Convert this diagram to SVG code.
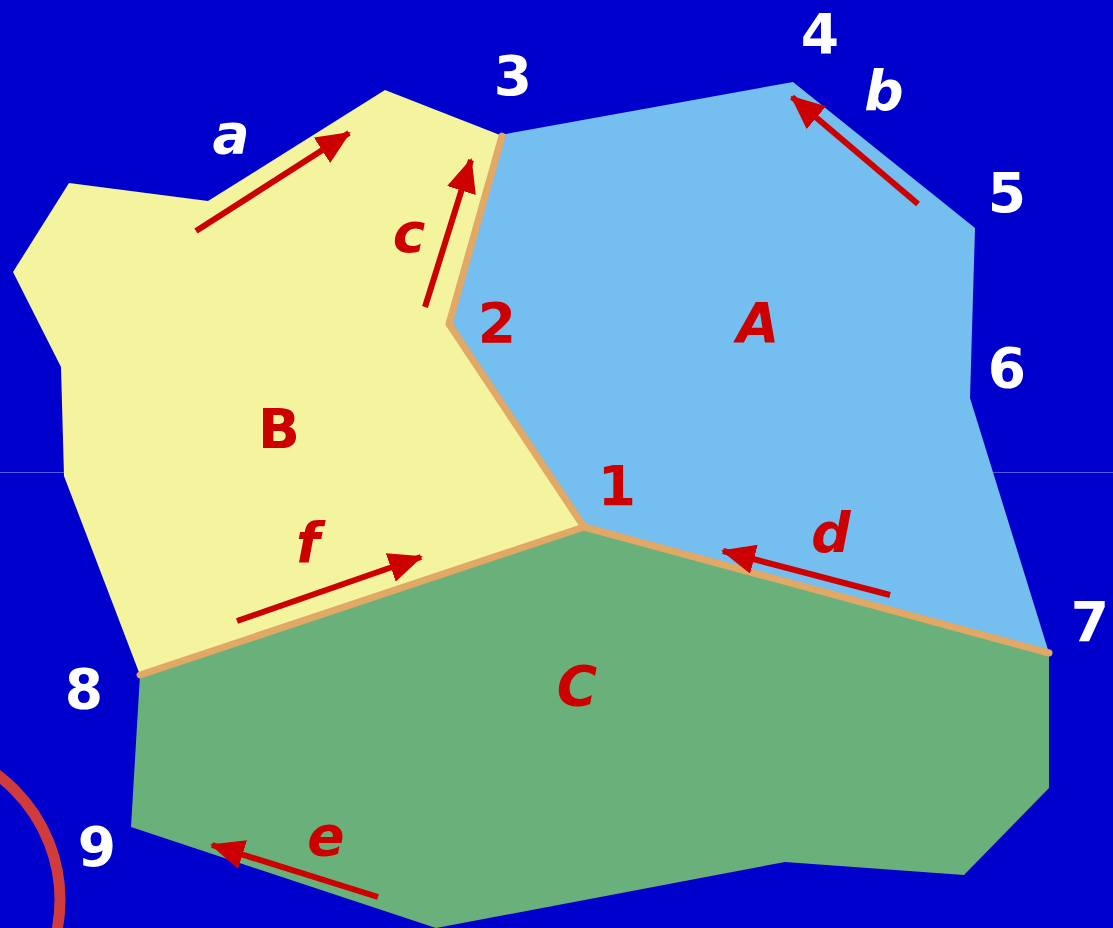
<svg xmlns="http://www.w3.org/2000/svg" width="1113" height="928" viewBox="0 0 1113 928">
  <style>
    .num { font-family: "DejaVu Sans", "Liberation Sans", sans-serif; font-weight: bold; font-size: 55px; fill: #ffffff; text-anchor: middle; }
    .lbl { font-family: "DejaVu Sans", "Liberation Sans", sans-serif; font-weight: bold; font-size: 55px; fill: #cc0000; text-anchor: middle; }
    .it { font-style: italic; }
    .arrow { stroke: #cc0000; stroke-width: 6; fill: none; marker-end: url(#head); }
    .border { stroke: #e2a865; stroke-width: 7; fill: none; stroke-linecap: round; stroke-linejoin: round; }
  </style>
  <defs>
    <marker id="head" markerUnits="userSpaceOnUse" viewBox="0 0 34 30" refX="32" refY="15" markerWidth="34" markerHeight="30" orient="auto">
      <path d="M0,0 L34,15 L0,30 z" fill="#cc0000"/>
    </marker>
  </defs>
  <rect x="0" y="0" width="1113" height="928" fill="#0000cc"/>
  <line x1="0" y1="472.5" x2="1113" y2="472.5" stroke="#5656e4" stroke-width="1"/>

  <g id="region-B">
    <polygon points="69,183 208,201 385,90 500,135 447,325 584,527 140,675 64,476 61,367 13,272" fill="#f5f49e"/>
    <text class="lbl" x="279" y="448">B</text>
  </g>
  <g id="region-A">
    <polygon points="500,135 793,82 975,228 970,398 1049,653 584,527 447,325" fill="#74bef0"/>
    <text class="lbl it" x="758" y="342">A</text>
  </g>
  <g id="region-C">
    <polygon points="140,675 584,527 1049,653 1049,788 964,875 785,862 436,928 131,827" fill="#6ab07a"/>
    <text class="lbl it" x="577" y="705">C</text>
  </g>

  <g id="borders">
    <polyline class="border" points="502,136 449,324 584,527 1049,653"/>
    <polyline class="border" points="584,527 140,675"/>
  </g>

  <g id="connectors">
    <line class="arrow" x1="196" y1="231" x2="349" y2="133"/>
    <line class="arrow" x1="425" y1="307" x2="471" y2="160"/>
    <line class="arrow" x1="918" y1="204" x2="792" y2="97"/>
    <line class="arrow" x1="890" y1="595" x2="723" y2="551"/>
    <line class="arrow" x1="237" y1="621" x2="421" y2="557"/>
    <line class="arrow" x1="378" y1="897" x2="212" y2="845"/>
  </g>

  <g id="edge-labels">
    <text class="num it" x="231" y="153">a</text>
    <text class="num it" x="884" y="110">b</text>
    <text class="lbl it" x="409" y="252">c</text>
    <text class="lbl it" x="831" y="552">d</text>
    <text class="lbl it" x="326" y="855">e</text>
    <text class="lbl it" x="308" y="562">f</text>
  </g>

  <g id="vertex-labels">
    <text class="lbl" x="617" y="505">1</text>
    <text class="lbl" x="497" y="342">2</text>
    <text class="num" x="513" y="95">3</text>
    <text class="num" x="820" y="53">4</text>
    <text class="num" x="1007" y="212">5</text>
    <text class="num" x="1007" y="387">6</text>
    <text class="num" x="1090" y="641">7</text>
    <text class="num" x="84" y="708">8</text>
    <text class="num" x="97" y="866">9</text>
  </g>

  <g id="arc">
    <circle cx="-96" cy="900" r="156" fill="none" stroke="#d03c3c" stroke-width="11"/>
  </g>
</svg>
